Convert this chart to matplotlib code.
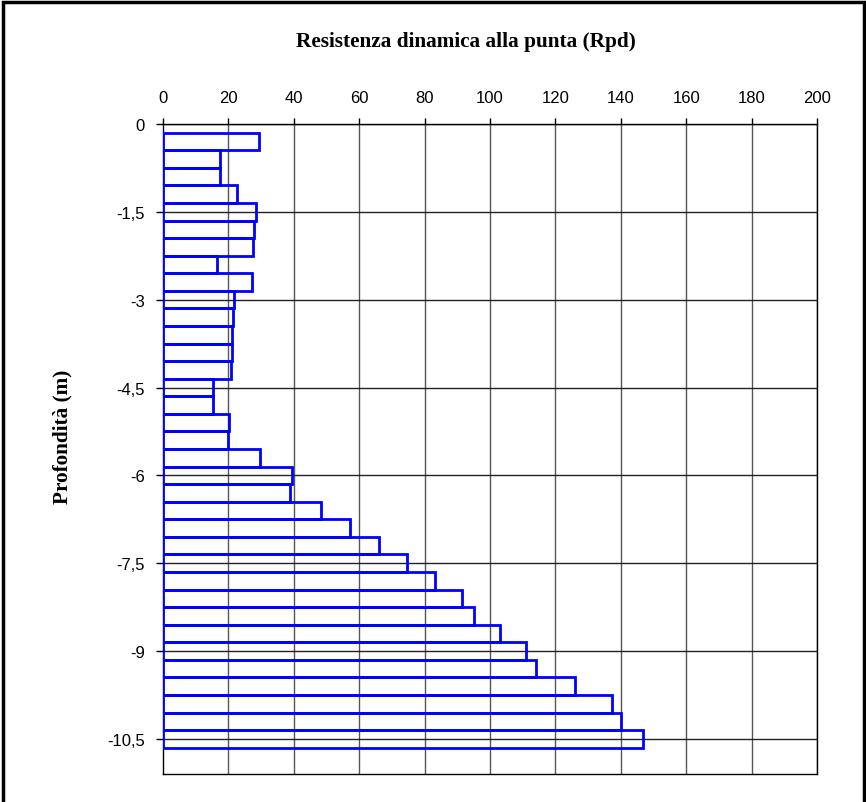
import matplotlib.pyplot as plt
from matplotlib.patches import Rectangle
from matplotlib.ticker import FuncFormatter

# profondità (m) centro di ogni tratto da 0,3 m
depth = [0.3, 0.6, 0.9, 1.2, 1.5, 1.8, 2.1, 2.4, 2.7, 3.0,
         3.3, 3.6, 3.9, 4.2, 4.5, 4.8, 5.1, 5.4, 5.7, 6.0,
         6.3, 6.6, 6.9, 7.2, 7.5, 7.8, 8.1, 8.4, 8.7, 9.0,
         9.3, 9.6, 9.9, 10.2, 10.5]

rpd = [29.3, 17.3, 17.3, 22.7, 28.3, 27.8, 27.5, 16.4, 27.2, 21.6,
       21.3, 21.0, 21.0, 20.7, 15.4, 15.2, 20.2, 19.8, 29.8, 39.3,
       38.8, 48.3, 57.2, 66.2, 74.7, 83.1, 91.4, 95.1, 103.1, 110.9,
       114.2, 125.9, 137.3, 140.1, 146.9]

x_ticks = [0, 20, 40, 60, 80, 100, 120, 140, 160, 180, 200]
y_ticks = [0, -1.5, -3, -4.5, -6, -7.5, -9, -10.5]

fig = plt.figure(figsize=(8.66, 8.03), dpi=100)
ax = fig.add_axes([163/866, 1 - 775/803, (817 - 163)/866, (775 - 125)/803])

ax.barh([-d for d in depth], rpd, height=0.3, fill=False,
        edgecolor='#0000ff', linewidth=2.0, zorder=3)

ax.set_xlim(0, 200)
ax.set_ylim(-11.1, 0)
ax.set_xticks(x_ticks)
ax.set_yticks(y_ticks)

# griglia
for x in x_ticks[1:]:
    ax.axvline(x, color='#555555', linewidth=1.0, zorder=1)
for y in y_ticks:
    ax.axhline(y, color='#222222', linewidth=1.0, zorder=1)

ax.xaxis.tick_top()
ax.tick_params(axis='x', length=4, width=1, pad=10, labelsize=12)
ax.tick_params(axis='y', length=5, width=1, pad=8, labelsize=12)
ax.yaxis.set_major_formatter(FuncFormatter(lambda v, p: ('%g' % v).replace('.', ',')))
for lab in ax.get_xticklabels() + ax.get_yticklabels():
    lab.set_fontfamily('Liberation Sans')

for s in ['top', 'bottom', 'left', 'right']:
    ax.spines[s].set_linewidth(1.0)
    ax.spines[s].set_color('black')

fig.text(466/866, 1 - 42/803, 'Resistenza dinamica alla punta (Rpd)',
         ha='center', va='center', fontsize=15.3, fontweight='bold',
         family='Liberation Serif')
fig.text(62/866, 1 - 437/803, 'Profondità (m)', rotation=90,
         ha='center', va='center', fontsize=15.3, fontweight='bold',
         family='Liberation Serif')

# cornice del grafico
fig.patches.append(Rectangle((0.004, -0.01), 0.994, 1.006, transform=fig.transFigure,
                             fill=False, edgecolor='black', linewidth=2.5))

fig.savefig('out.png', dpi=100)
